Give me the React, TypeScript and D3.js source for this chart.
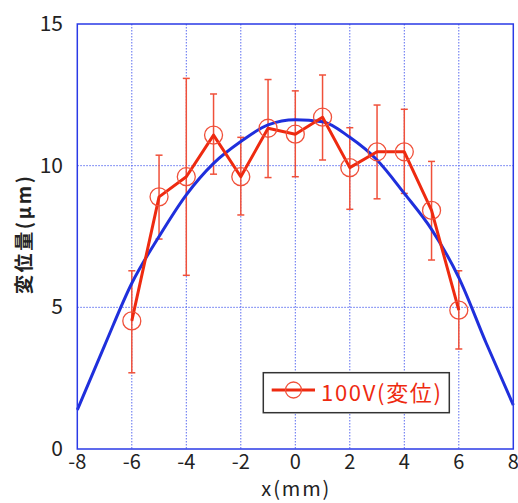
import React from "react";
import * as d3 from "d3";

const xValues = [-6, -5, -4, -3, -2, -1, 0, 1, 2, 3, 4, 5, 6];
const meanValues = [4.52, 8.9, 9.61, 11.08, 9.61, 11.32, 11.11, 11.71, 9.93, 10.49, 10.49, 8.42, 4.9];
const upperValues = [6.29, 10.37, 13.08, 12.53, 11.0, 13.04, 12.64, 13.2, 11.34, 12.14, 11.99, 10.15, 6.29];
const lowerValues = [2.69, 7.41, 6.13, 9.7, 8.26, 9.58, 9.61, 10.2, 8.46, 8.83, 9.02, 6.67, 3.53];

const fitX = [-8, -7, -6, -5, -4, -3, -2, -1, 0, 1, 2, 3, 4, 5, 6, 7, 8];
const fitY = [1.38, 3.65, 5.85, 7.5, 8.97, 10.08, 10.85, 11.44, 11.62, 11.55, 11.0, 10.2, 9.02, 7.75, 6.05, 3.75, 1.55];

const xTicks = [-8, -6, -4, -2, 0, 2, 4, 6, 8];
const yTicks = [0, 5, 10, 15];
const legendLabel = "100V(変位)";
const xLabel = "x(mm)";
const yLabel = "変位量(μm)";

const W = 518;
const H = 503;
const M = { left: 77.3, right: 513.3, top: 24, bottom: 449 };
const FONT = "'Noto Sans CJK JP', 'Noto Sans', sans-serif";

export default function App() {
  const x = d3.scaleLinear().domain([-8, 8]).range([M.left, M.right]);
  const y = d3.scaleLinear().domain([0, 15]).range([M.bottom, M.top]);

  const fitLine = d3
    .line<number>()
    .x((d, i) => x(fitX[i]))
    .y((d) => y(d))
    .curve(d3.curveMonotoneX);

  const dataLine = d3
    .line<number>()
    .x((d, i) => x(xValues[i]))
    .y((d) => y(d));

  const red = "#ee2a10";
  const errRed = "#f0503a";
  const blue = "#1f2fdc";
  const grid = "#5a6cf0";

  return (
    <svg
      width={W}
      height={H}
      style={{ position: "absolute", left: 0, top: 0, background: "#fff" }}
      fontFamily={FONT}
    >
      {xTicks.slice(1, -1).map((t) => (
        <line
          key={"gx" + t}
          x1={x(t)}
          x2={x(t)}
          y1={M.top}
          y2={M.bottom}
          stroke={grid}
          strokeWidth={1}
          strokeDasharray="1.5,1.5"
        />
      ))}
      {yTicks.slice(1, -1).map((t) => (
        <line
          key={"gy" + t}
          x1={M.left}
          x2={M.right}
          y1={y(t)}
          y2={y(t)}
          stroke={grid}
          strokeWidth={1}
          strokeDasharray="1.5,1.5"
        />
      ))}

      {xValues.map((xv, i) => (
        <g key={"e" + i} stroke={errRed} strokeWidth={1.5}>
          <line x1={x(xv)} x2={x(xv)} y1={y(upperValues[i])} y2={y(lowerValues[i])} />
          <line x1={x(xv) - 3.5} x2={x(xv) + 3.5} y1={y(upperValues[i])} y2={y(upperValues[i])} />
          <line x1={x(xv) - 3.5} x2={x(xv) + 3.5} y1={y(lowerValues[i])} y2={y(lowerValues[i])} />
        </g>
      ))}

      <path d={fitLine(fitY) || ""} fill="none" stroke={blue} strokeWidth={3} />

      <path d={dataLine(meanValues) || ""} fill="none" stroke={red} strokeWidth={3} strokeLinejoin="round" />
      {xValues.map((xv, i) => (
        <circle
          key={"c" + i}
          cx={x(xv)}
          cy={y(meanValues[i])}
          r={9}
          fill="none"
          stroke={errRed}
          strokeWidth={1.3}
        />
      ))}

      <rect
        x={M.left}
        y={M.top}
        width={M.right - M.left}
        height={M.bottom - M.top}
        fill="none"
        stroke="#2a3ae6"
        strokeWidth={1.5}
      />

      {yTicks.map((t) => (
        <text
          key={"yt" + t}
          x={63}
          y={y(t) - 2}
          textAnchor="end"
          dominantBaseline="central"
          fontSize={21}
          fill="#222"
        >
          {t}
        </text>
      ))}
      {xTicks.map((t) => (
        <text
          key={"xt" + t}
          x={x(t)}
          y={460}
          textAnchor="middle"
          dominantBaseline="central"
          fontSize={20}
          fill="#222"
        >
          {t}
        </text>
      ))}

      <text
        x={x(0)}
        y={496}
        textAnchor="middle"
        fontSize={20}
        fill="#222"
        textLength={68}
        lengthAdjust="spacing"
      >
        {xLabel}
      </text>
      <text
        transform={`translate(22, 235) rotate(-90)`}
        textAnchor="middle"
        dominantBaseline="central"
        fontSize={19}
        fontWeight="bold"
        fill="#222"
        textLength={118}
        lengthAdjust="spacing"
      >
        {yLabel}
      </text>

      <g>
        <rect x={263.3} y={372.7} width={186} height={40} fill="#fff" stroke="#333" strokeWidth={1.5} />
        <line x1={271.7} x2={315} y1={390} y2={390} stroke={red} strokeWidth={3} />
        <circle cx={293.5} cy={390} r={8} fill="none" stroke={errRed} strokeWidth={1.3} />
        <text
          x={321}
          y={391}
          dominantBaseline="central"
          fontSize={22}
          fill={red}
          textLength={120}
          lengthAdjust="spacing"
        >
          {legendLabel}
        </text>
      </g>
    </svg>
  );
}
